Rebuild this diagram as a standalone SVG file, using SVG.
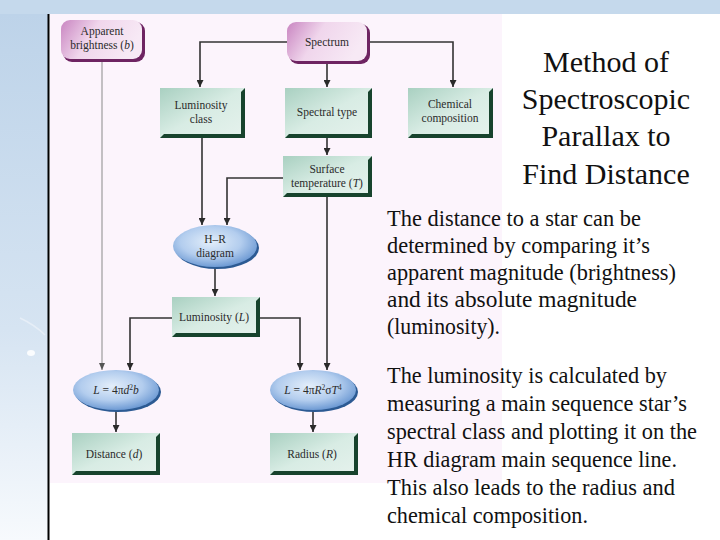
<svg xmlns="http://www.w3.org/2000/svg" width="720" height="540" viewBox="0 0 720 540">
<defs>
<linearGradient id="leftStrip" x1="0" y1="0" x2="0" y2="1">
<stop offset="0" stop-color="#bdd3e9"/>
<stop offset="0.6" stop-color="#d6e4f2"/>
<stop offset="1" stop-color="#f7fafd"/>
</linearGradient>
<linearGradient id="pinkFill" x1="0" y1="0" x2="1" y2="0.3">
<stop offset="0" stop-color="#c985c1"/>
<stop offset="0.45" stop-color="#f0d6ec"/>
<stop offset="1" stop-color="#f7e9f5"/>
</linearGradient>
<linearGradient id="greenFill" x1="0" y1="0" x2="1" y2="1">
<stop offset="0" stop-color="#a9d0c1"/>
<stop offset="0.5" stop-color="#d8ece4"/>
<stop offset="1" stop-color="#e6f2ed"/>
</linearGradient>
<radialGradient id="blueFill" cx="0.45" cy="0.4" r="0.6">
<stop offset="0" stop-color="#e3eefa"/>
<stop offset="0.6" stop-color="#b3cdee"/>
<stop offset="1" stop-color="#6f9bd4"/>
</radialGradient>
<marker id="arr" markerUnits="userSpaceOnUse" markerWidth="8" markerHeight="7" refX="7" refY="3.5" orient="auto">
<path d="M0,0 L7,3.5 L0,7 z" fill="#2a2a2a"/>
</marker>
<marker id="arrG" markerUnits="userSpaceOnUse" markerWidth="8" markerHeight="7" refX="7" refY="3.5" orient="auto">
<path d="M0,0.5 L7,3.5 L0,6.5 z" fill="#555"/>
</marker>
</defs>
<style>
.lbl{font-family:"Liberation Serif","Times New Roman",serif;font-size:11.5px;fill:#2b2b2b;text-anchor:middle}
.it{font-style:italic}
.pink{fill:url(#pinkFill)}
.pinkSh{fill:#6e2462}
.green{fill:url(#greenFill)}
.bevel{fill:#17432d}
.blue{fill:url(#blueFill)}
.blueSh{fill:#2c5a93}
.conn{fill:none;stroke:#333;stroke-width:1.6;marker-end:url(#arr)}
.connG{fill:none;stroke:#8a8a8a;stroke-width:1;marker-end:url(#arrG)}
.title{font-family:"Liberation Serif","Times New Roman",serif;font-size:30px;fill:#111;text-anchor:middle}
.para{font-family:"Liberation Serif","Times New Roman",serif;font-size:22.5px;fill:#111}
</style>
<rect x="0" y="0" width="720" height="540" fill="#ffffff"/>
<rect x="0" y="0" width="720" height="14" fill="#c5d9ec"/>
<rect x="0" y="14" width="48" height="526" fill="url(#leftStrip)"/>
<ellipse cx="31" cy="353" rx="4" ry="3" fill="#ffffff" opacity="0.85"/>
<path d="M20,318 Q35,325 45,335" stroke="#e6eef7" stroke-width="1.5" fill="none"/>
<line x1="48.5" y1="14" x2="48.5" y2="540" stroke="#000" stroke-width="2"/>
<rect x="50" y="14" width="452" height="469" fill="#fcf4fc"/>

<g id="connectors">
<path class="connG" d="M102,61 V370"/>
<path class="conn" d="M287,42 H200 V87"/>
<path class="conn" d="M327,63 V87"/>
<path class="conn" d="M368,42 H453 V87"/>
<path class="conn" d="M327,138 V155"/>
<path class="conn" d="M202,138 V225"/>
<path class="conn" d="M283,178 H227 V225"/>
<path class="conn" d="M215,268 V296"/>
<path class="conn" d="M172,318 H130 V370"/>
<path class="conn" d="M260,318 H300 V370"/>
<path class="conn" d="M327,197 V370"/>
<path class="conn" d="M116,410 V432"/>
<path class="conn" d="M313,410 V432"/>
</g>

<g id="apparent-brightness">
<rect class="pinkSh" x="63" y="22" width="82" height="40" rx="9"/>
<rect class="pink" x="61" y="20" width="81" height="39" rx="9"/>
<text class="lbl" x="102" y="35">Apparent</text>
<text class="lbl" x="102" y="49">brightness (<tspan class="it">b</tspan>)</text>
</g>

<g id="spectrum">
<rect class="pinkSh" x="289" y="24" width="81" height="40" rx="9"/>
<rect class="pink" x="287" y="22" width="80" height="39" rx="9"/>
<text class="lbl" x="327" y="46">Spectrum</text>
</g>

<g id="luminosity-class">
<rect class="green" x="160" y="88" width="85" height="50"/>
<path class="bevel" d="M245,88 V138 H160 L164,134 H241 V92 Z"/>
<text class="lbl" x="201" y="109">Luminosity</text>
<text class="lbl" x="201" y="123">class</text>
</g>

<g id="spectral-type">
<rect class="green" x="285" y="88" width="87" height="50"/>
<path class="bevel" d="M372,88 V138 H285 L289,134 H368 V92 Z"/>
<text class="lbl" x="327" y="116">Spectral type</text>
</g>

<g id="chemical-composition">
<rect class="green" x="408" y="88" width="85" height="50"/>
<path class="bevel" d="M493,88 V138 H408 L412,134 H489 V92 Z"/>
<text class="lbl" x="450" y="108">Chemical</text>
<text class="lbl" x="450" y="122">composition</text>
</g>

<g id="surface-temperature">
<rect class="green" x="283" y="156" width="89" height="41"/>
<path class="bevel" d="M372,156 V197 H283 L287,193 H368 V160 Z"/>
<text class="lbl" x="327" y="173">Surface</text>
<text class="lbl" x="327" y="187">temperature (<tspan class="it">T</tspan>)</text>
</g>

<g id="hr-diagram">
<ellipse class="blueSh" cx="217" cy="248" rx="42" ry="21"/>
<ellipse class="blue" cx="215" cy="246" rx="42" ry="21"/>
<text class="lbl" x="215" y="243">H–R</text>
<text class="lbl" x="215" y="257">diagram</text>
</g>

<g id="luminosity">
<rect class="green" x="172" y="297" width="88" height="40"/>
<path class="bevel" d="M260,297 V337 H172 L176,333 H256 V301 Z"/>
<text class="lbl" x="214" y="321">Luminosity (<tspan class="it">L</tspan>)</text>
</g>

<g id="eq-distance">
<ellipse class="blueSh" cx="118" cy="392" rx="43" ry="20"/>
<ellipse class="blue" cx="116" cy="390" rx="43" ry="20"/>
<text class="lbl" x="116" y="394"><tspan class="it">L</tspan> = 4π<tspan class="it">d</tspan><tspan font-size="7.5" baseline-shift="super">2</tspan><tspan class="it">b</tspan></text>
</g>

<g id="eq-radius">
<ellipse class="blueSh" cx="315" cy="392" rx="43" ry="20"/>
<ellipse class="blue" cx="313" cy="390" rx="43" ry="20"/>
<text class="lbl" x="313" y="394"><tspan class="it">L</tspan> = 4π<tspan class="it">R</tspan><tspan font-size="7.5" baseline-shift="super">2</tspan>σ<tspan class="it">T</tspan><tspan font-size="7.5" baseline-shift="super">4</tspan></text>
</g>

<g id="distance">
<rect class="green" x="72" y="433" width="88" height="42"/>
<path class="bevel" d="M160,433 V475 H72 L76,471 H156 V437 Z"/>
<text class="lbl" x="114" y="458">Distance (<tspan class="it">d</tspan>)</text>
</g>

<g id="radius">
<rect class="green" x="270" y="433" width="88" height="42"/>
<path class="bevel" d="M358,433 V475 H270 L274,471 H354 V437 Z"/>
<text class="lbl" x="312" y="458">Radius (<tspan class="it">R</tspan>)</text>
</g>

<g id="title">
<text class="title" x="606" y="72">Method of</text>
<text class="title" x="606" y="109">Spectroscopic</text>
<text class="title" x="606" y="146">Parallax to</text>
<text class="title" x="606" y="184">Find Distance</text>
</g>

<g id="paragraph-1">
<text class="para" x="387" y="226" textLength="254" lengthAdjust="spacingAndGlyphs">The distance to a star can be</text>
<text class="para" x="387" y="253" textLength="263" lengthAdjust="spacingAndGlyphs">determined by comparing it’s</text>
<text class="para" x="387" y="280" textLength="289" lengthAdjust="spacingAndGlyphs">apparent magnitude (brightness)</text>
<text class="para" x="387" y="307" textLength="250" lengthAdjust="spacingAndGlyphs">and its absolute magnitude</text>
<text class="para" x="387" y="334" textLength="113" lengthAdjust="spacingAndGlyphs">(luminosity).</text>
</g>

<g id="paragraph-2">
<text class="para" x="387" y="383" textLength="280" lengthAdjust="spacingAndGlyphs">The luminosity is calculated by</text>
<text class="para" x="387" y="411" textLength="300" lengthAdjust="spacingAndGlyphs">measuring a main sequence star’s</text>
<text class="para" x="387" y="439" textLength="310" lengthAdjust="spacingAndGlyphs">spectral class and plotting it on the</text>
<text class="para" x="387" y="467" textLength="290" lengthAdjust="spacingAndGlyphs">HR diagram main sequence line.</text>
<text class="para" x="387" y="495" textLength="288" lengthAdjust="spacingAndGlyphs">This also leads to the radius and</text>
<text class="para" x="387" y="523" textLength="201" lengthAdjust="spacingAndGlyphs">chemical composition.</text>
</g>
</svg>
